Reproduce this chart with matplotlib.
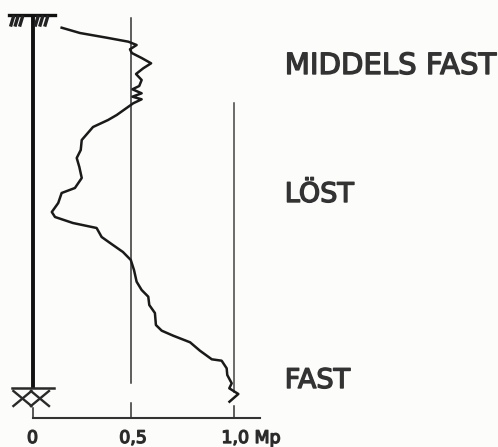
import numpy as np
import matplotlib
matplotlib.use('Agg')
import matplotlib.pyplot as plt
import matplotlib.patheffects as pe

# sounding curve, force in Mp against depth (scale units)
force = [.145,.236,.369,.477,.518,.485,.494,.543,.59,.551,.515,.543,.531,.497,.543,.497,.543,.501,
         .419,.376,.301,.245,.240,.220,.233,.245,.211,.145,.128,.096,.112,.201,.319,.344,.386,.450,
         .489,.505,.518,.543,.576,.581,.609,.614,.643,.700,.784,.833,.892,.941,.966,.969,.991,.979,1.024,.980]
depth = [27.7,33,37.7,41.7,45,49.3,53,58,63.3,68.3,74,80,86,89.3,93.3,96.7,99.3,103.3,
         115,120,127,140,150,158,167,178,188,193,203,212,217,223,228,237,243,252,
         260,270,281.7,290,296.7,305,313,325,330.7,335.7,342.3,350.7,359.3,360.7,368.3,375,383.3,388.3,394,401.7]

soil_labels = ['MIDDELS FAST', 'LÖST', 'FAST']
soil_depth = [74, 202, 388]
tick_pos = [0, 0.5, 1.0]
tick_labels = ['0', '0,5', '1,0 Mp']

ink = '#2a2a2a'
bg = '#fcfcfb'

fig = plt.figure(figsize=(4.98, 4.47), dpi=100, facecolor=bg)
ax = fig.add_axes([0, 0, 1, 1])
ax.set_xlim(-32.5/201, (498-32.5)/201)
ax.set_ylim(447, 0)
ax.axis('off')

# pole
ax.plot([0, 0], [15, 388], color='#111111', lw=2.8, solid_capstyle='butt')

# top symbol with hatching
ax.plot([-0.115, 0.112], [15, 15], color='#111111', lw=2.4)
for x0 in [-0.095, -0.073, -0.05, 0.027, 0.05, 0.075]:
    ax.plot([x0, x0-0.012], [17, 25], color='#222222', lw=2.4)

# bottom symbol
ax.plot([-0.10, 0.105], [388, 388], color=ink, lw=1.8)
for xc in [-0.05, 0.037]:
    ax.plot([xc-0.045, xc+0.045], [391, 406], color=ink, lw=1.7)
    ax.plot([xc+0.045, xc-0.045], [391, 406], color=ink, lw=1.7)

# vertical reference lines, with the gap above the axis
ax.plot([0.49, 0.49], [18, 383], color='#333333', lw=1.1)
ax.plot([0.49, 0.49], [403, 418], color='#333333', lw=1.1)
ax.plot([1.0, 1.0], [103, 392], color='#444444', lw=1.1)
ax.plot([1.0, 1.0], [406, 418], color='#333333', lw=1.1)

# baseline
ax.plot([0, 0], [408, 418], color=ink, lw=1.1)
ax.plot([0, 1.13], [417.7, 417.7], color='#333333', lw=1.5)

ax.plot(force, depth, color='#1a1a1a', lw=1.8, solid_joinstyle='round')

stroke = [pe.withStroke(linewidth=1.0, foreground='#333333')]
for pos, lab, ha in zip([0, 0.5, 0.94], tick_labels, ['center', 'center', 'left']):
    ax.text(pos, 443, lab, ha=ha, va='baseline', fontsize=12.5, color=ink, path_effects=stroke)

for lab, d, fs in zip(soil_labels, soil_depth, [21, 19.5, 19.5]):
    ax.text(1.255, d, lab, ha='left', va='baseline', fontsize=fs, color='#333333', path_effects=stroke)

fig.savefig('out.png', dpi=100, facecolor=bg)
